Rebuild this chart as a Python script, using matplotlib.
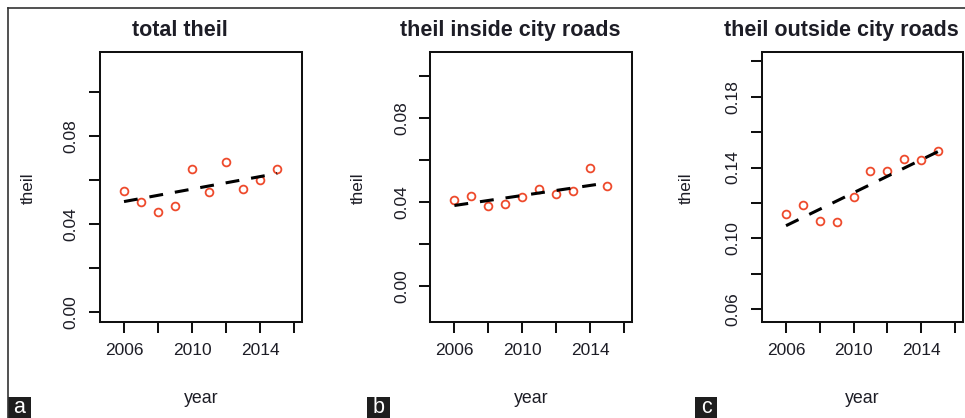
import matplotlib
matplotlib.use('Agg')
import matplotlib.pyplot as plt
from matplotlib.lines import Line2D
from matplotlib.patches import Rectangle

plt.rcParams['font.family'] = ['Liberation Sans', 'DejaVu Sans']
plt.rcParams['lines.scale_dashes'] = False

# ---------------- data ----------------
years = [2006, 2007, 2008, 2009, 2010, 2011, 2012, 2013, 2014, 2015]
total_theil = [0.0551, 0.0498, 0.0454, 0.0482, 0.0649, 0.0543, 0.0679, 0.0558, 0.0600, 0.0649]
inside_theil = [0.0409, 0.0430, 0.0382, 0.0390, 0.0421, 0.0462, 0.0437, 0.0452, 0.0563, 0.0476]
outside_theil = [0.1140, 0.1187, 0.1101, 0.1093, 0.1234, 0.1382, 0.1382, 0.1449, 0.1444, 0.1494]

trend_years = [2006, 2015]
total_trend = [0.0501, 0.0629]
inside_trend = [0.0383, 0.0490]
outside_trend = [0.1072, 0.1490]

titles = ['total theil', 'theil inside city roads', 'theil outside city roads']
panel_letters = ['a', 'b', 'c']
x_label = 'year'
y_label = 'theil'

x_ticks = [2006, 2008, 2010, 2012, 2014, 2016]
x_tick_labels = ['2006', '', '2010', '', '2014', '']
y_ticks_small = [0.00, 0.02, 0.04, 0.06, 0.08, 0.10]
y_tick_labels_small = ['0.00', '', '0.04', '', '0.08', '']
y_ticks_outside = [0.06, 0.08, 0.10, 0.12, 0.14, 0.16, 0.18, 0.20]
y_tick_labels_outside = ['0.06', '', '0.10', '', '0.14', '', '0.18', '']

# ---------------- layout (pixels) ----------------
W, H = 965, 418
DPI = 100
TXT = '#1d1d26'
RED = '#ee4a2c'


def fx(x):
    return x / W


def fy(y):
    return 1 - y / H


fig = plt.figure(figsize=(W / DPI, H / DPI), dpi=DPI, facecolor='white')

panels = [
    dict(vals=total_theil, trend=total_trend, l=99.5, r=302.0,
         ylim=(-0.0047, 0.1183), yt=y_ticks_small, ytl=y_tick_labels_small,
         ylab_x=28.3, box=(8.0, 31.0)),
    dict(vals=inside_theil, trend=inside_trend, l=430.0, r=631.7,
         ylim=(-0.0170, 0.1113), yt=y_ticks_small, ytl=y_tick_labels_small,
         ylab_x=358.3, box=(367.3, 390.0)),
    dict(vals=outside_theil, trend=outside_trend, l=761.7, r=962.7,
         ylim=(0.0529, 0.2053), yt=y_ticks_outside, ytl=y_tick_labels_outside,
         ylab_x=686.7, box=(695.0, 717.3)),
]
top, bottom = 51.7, 322.0

for i, p in enumerate(panels):
    ax = fig.add_axes([fx(p['l']), fy(bottom), (p['r'] - p['l']) / W, (bottom - top) / H])
    ax.plot(years, p['vals'], linestyle='none', marker='o', markersize=5.6,
            markerfacecolor='none', markeredgecolor=RED, markeredgewidth=1.3, zorder=2)
    ax.plot(trend_years, p['trend'], color='black', linewidth=2.2,
            dashes=(10.0, 8.6), dash_capstyle='butt', zorder=3)
    ax.set_xlim(2004.56, 2016.46)
    ax.set_ylim(*p['ylim'])
    ax.set_xticks(x_ticks)
    ax.set_xticklabels(x_tick_labels)
    ax.set_yticks(p['yt'])
    ax.set_yticklabels(p['ytl'], rotation=90, va='center')
    for s in ax.spines.values():
        s.set_linewidth(1.45)
        s.set_color('#111111')
    ax.tick_params(axis='both', direction='out', length=7.6, width=1.45,
                   color='#111111', labelsize=12.5, labelcolor=TXT, pad=7.4)

    cx = (p['l'] + p['r']) / 2
    fig.text(fx(cx - 21), fy(36), titles[i], ha='center', va='baseline',
             fontsize=15.5, fontweight='bold', color=TXT)
    fig.text(fx(cx), fy(403), x_label, ha='center', va='baseline',
             fontsize=12.8, color=TXT)
    fig.text(fx(p['ylab_x']), fy(188), y_label, ha='center', va='center',
             rotation=90, fontsize=12.3, color=TXT)

    bl, br = p['box']
    fig.add_artist(Rectangle((fx(bl), fy(418)), (br - bl) / W, 21.3 / H,
                             transform=fig.transFigure, facecolor='#1e1e1e',
                             edgecolor='none'))
    fig.text(fx((bl + br) / 2), fy(413), panel_letters[i], ha='center',
             va='baseline', fontsize=15.5, color='white')

# outer frame (top and left edges)
fig.add_artist(Line2D([fx(8), fx(8)], [fy(8), fy(418)], transform=fig.transFigure,
                      color='#333333', linewidth=1.2))
fig.add_artist(Line2D([fx(8), 1.0], [fy(8), fy(8)], transform=fig.transFigure,
                      color='#333333', linewidth=1.2))

fig.savefig('out.png', dpi=DPI, facecolor='white')
